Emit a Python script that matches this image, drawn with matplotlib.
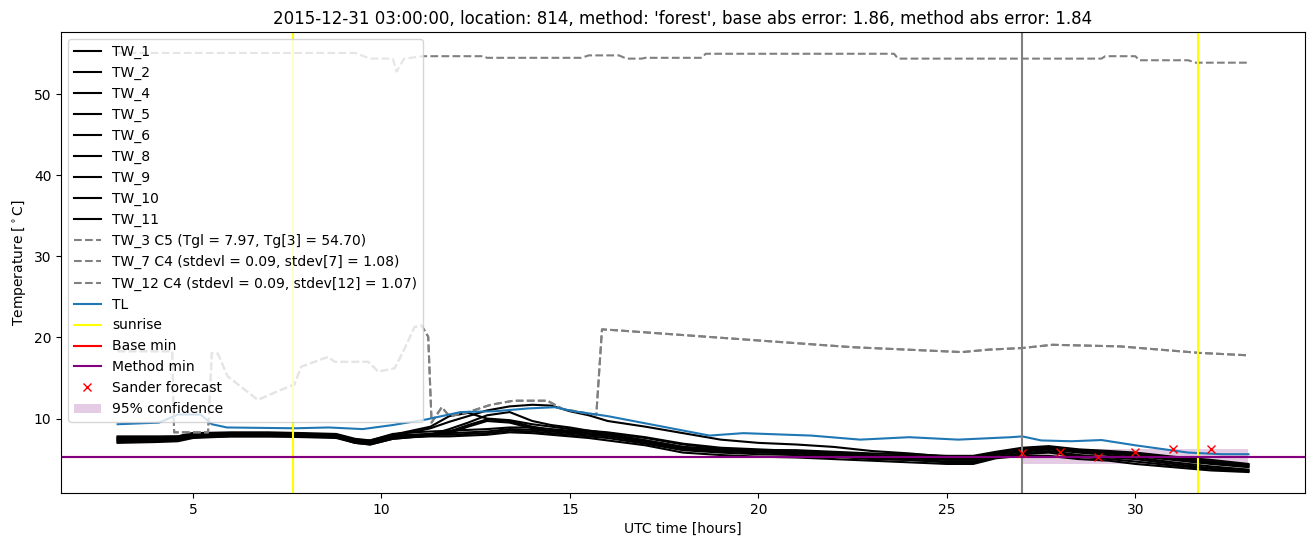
import matplotlib
matplotlib.use('Agg')
import matplotlib.pyplot as plt

title = "2015-12-31 03:00:00, location: 814, method: 'forest', base abs error: 1.86, method abs error: 1.84"

# knot times (hours) shared by the black TW lines
kt = [3.0, 4.0, 4.6, 5.0, 6.0, 7.0, 8.0, 8.8, 9.3, 9.7, 10.3, 10.8, 11.3, 11.8, 12.3, 12.8, 13.4, 14.0, 14.5, 15.0,
      15.5, 16.0, 17.0, 18.0, 19.0, 20.0, 21.0, 22.0, 23.0, 24.0, 25.0, 25.7, 26.3, 27.0, 27.7, 28.5, 29.3, 30.0,
      31.0, 32.0, 33.0]

tw_1 = [7.6, 7.7, 7.7, 8.1, 8.2, 8.2, 8.1, 8.0, 7.4, 7.2, 8.0, 8.3, 8.8, 9.6, 10.3, 11.0, 11.5, 11.7, 11.6, 10.9,
        10.4, 9.7, 9.0, 8.2, 7.4, 7.0, 6.8, 6.5, 6.0, 5.7, 5.3, 5.3, 5.8, 6.2, 6.5, 6.1, 5.8, 5.5, 5.1, 4.6, 4.2]
tw_2 = [7.4, 7.5, 7.5, 7.9, 8.0, 8.0, 8.0, 7.9, 7.3, 7.1, 7.8, 8.0, 8.0, 8.7, 9.5, 10.4, 10.8, 9.7, 9.2, 8.9,
        8.5, 8.2, 7.6, 6.8, 6.3, 6.0, 5.9, 5.7, 5.4, 5.3, 5.1, 5.1, 5.6, 6.1, 6.4, 6.0, 5.8, 5.6, 5.0, 4.5, 4.1]
tw_4 = [7.3, 7.4, 7.5, 7.9, 8.0, 8.0, 7.9, 7.8, 7.2, 7.0, 7.7, 7.9, 8.1, 8.4, 9.2, 9.9, 9.7, 9.0, 8.6, 8.4,
        8.2, 8.0, 7.3, 6.5, 6.1, 6.0, 5.9, 5.6, 5.3, 5.1, 4.9, 4.9, 5.5, 5.9, 6.2, 5.8, 5.5, 5.2, 4.6, 4.1, 3.7]
tw_5 = [7.1, 7.2, 7.3, 7.7, 7.8, 7.8, 7.7, 7.6, 7.0, 6.8, 7.5, 7.7, 7.9, 8.2, 9.0, 9.7, 9.5, 8.8, 8.5, 8.3,
        8.1, 7.9, 7.1, 6.3, 6.0, 5.8, 5.7, 5.4, 5.1, 4.9, 4.6, 4.6, 5.2, 5.6, 5.8, 5.3, 5.0, 4.7, 4.2, 3.8, 3.5]
tw_6 = [7.7, 7.7, 7.8, 8.2, 8.2, 8.2, 8.1, 8.0, 7.4, 7.3, 8.0, 8.5, 9.0, 10.3, 10.7, 10.0, 9.8, 9.3, 9.0, 8.7,
        8.5, 8.3, 7.7, 6.9, 6.4, 6.2, 6.0, 5.8, 5.5, 5.4, 5.2, 5.2, 5.8, 6.3, 6.5, 6.1, 5.9, 5.7, 5.2, 4.7, 4.3]
tw_8 = [7.8, 7.8, 7.8, 8.2, 8.3, 8.3, 8.2, 8.1, 7.5, 7.3, 8.1, 8.3, 8.4, 8.5, 8.6, 8.7, 8.9, 8.9, 8.7, 8.5,
        8.4, 8.1, 7.3, 6.5, 6.2, 6.1, 6.1, 5.9, 5.7, 5.6, 5.4, 5.4, 5.9, 6.4, 6.6, 6.2, 6.0, 5.8, 5.3, 4.9, 4.4]
tw_9 = [7.5, 7.6, 7.6, 8.0, 8.1, 8.1, 8.0, 7.9, 7.3, 7.1, 7.9, 8.0, 8.1, 8.2, 8.3, 8.4, 8.7, 8.6, 8.4, 8.2,
        8.0, 7.8, 7.1, 6.3, 6.0, 5.9, 5.8, 5.6, 5.3, 5.2, 5.0, 5.0, 5.6, 6.0, 6.3, 5.9, 5.7, 5.4, 4.9, 4.4, 4.0]
tw_10 = [7.3, 7.4, 7.4, 7.8, 7.9, 7.9, 7.9, 7.8, 7.1, 6.9, 7.7, 7.9, 8.0, 8.0, 8.1, 8.2, 8.5, 8.4, 8.2, 8.0,
         7.8, 7.6, 6.9, 6.1, 5.8, 5.6, 5.5, 5.3, 5.0, 4.9, 4.7, 4.7, 5.3, 5.7, 6.0, 5.5, 5.2, 5.0, 4.4, 3.9, 3.6]
tw_11 = [7.0, 7.1, 7.2, 7.6, 7.8, 7.8, 7.8, 7.7, 7.0, 6.8, 7.5, 7.7, 7.8, 7.8, 7.9, 8.0, 8.3, 8.2, 8.0, 7.8,
         7.6, 7.3, 6.7, 5.8, 5.5, 5.3, 5.2, 5.0, 4.8, 4.6, 4.4, 4.4, 5.1, 5.4, 5.4, 5.0, 4.8, 4.4, 4.0, 3.6, 3.4]

black_names = ['TW_1', 'TW_2', 'TW_4', 'TW_5', 'TW_6', 'TW_8', 'TW_9', 'TW_10', 'TW_11']
black_vals = [tw_1, tw_2, tw_4, tw_5, tw_6, tw_8, tw_9, tw_10, tw_11]

# TW_3 (C5, stuck around 55)
t3 = [3.0, 9.3, 9.7, 10.3, 10.4, 10.6, 11.1, 12.7, 12.8, 15.3, 15.5, 16.3, 16.5, 16.9, 17.0, 18.5, 18.6, 23.6,
      23.7, 29.1, 29.2, 30.0, 30.1, 31.4, 31.6, 33.0]
tw_3 = [55.1, 55.1, 54.4, 54.4, 52.8, 54.4, 54.7, 54.7, 54.5, 54.5, 54.8, 54.8, 54.4, 54.4, 54.5, 54.5, 55.0, 55.0,
        54.4, 54.4, 54.7, 54.7, 54.2, 54.2, 53.9, 53.9]

# TW_7 / TW_12 (C4, jumpy sensors, drawn on top of each other)
t7 = [3.0, 4.45, 4.5, 5.4, 5.5, 5.66, 5.92, 6.28, 6.72, 7.16, 7.69, 7.87, 8.58, 8.76, 9.65, 9.91, 10.35, 10.6,
      10.88, 11.06, 11.24, 11.33, 11.6, 11.8, 12.3, 12.9, 13.5, 14.4, 14.8, 15.5, 15.7, 15.85, 16.2, 17.7, 20.1,
      22.5, 25.4, 26.1, 27.0, 27.8, 29.6, 31.7, 33.0]
tw_7 = [18.3, 18.3, 8.3, 8.3, 18.1, 18.0, 15.2, 13.9, 12.3, 13.2, 14.2, 16.4, 17.6, 17.0, 17.0, 15.8, 16.2, 18.5,
        21.3, 21.5, 20.1, 9.5, 11.4, 10.3, 10.8, 11.7, 12.2, 12.2, 11.2, 10.6, 10.5, 21.0, 20.9, 20.4, 19.6,
        18.8, 18.2, 18.5, 18.7, 19.1, 18.9, 18.1, 17.8]
tw_12 = tw_7

# air temperature TL
tl_t = [3.0, 4.1, 4.6, 5.2, 5.5, 5.9, 7.7, 8.6, 9.5, 10.3, 11.2, 12.1, 13.0, 13.9, 14.6, 15.1, 16.0, 16.9, 17.8,
        18.7, 19.6, 21.4, 22.7, 24.0, 25.3, 26.7, 27.0, 27.5, 28.3, 29.1, 30.0, 31.4, 32.3, 33.0]
tl = [9.3, 9.5, 10.5, 10.5, 9.3, 8.9, 8.8, 8.9, 8.7, 9.2, 9.9, 10.8, 10.9, 11.25, 11.4, 10.9, 10.3, 9.5, 8.7,
      7.9, 8.2, 7.9, 7.4, 7.7, 7.4, 7.7, 7.8, 7.3, 7.2, 7.35, 6.7, 5.8, 5.6, 5.6]

sunrise = [7.66, 31.67]
forecast_time = 27.0
base_min = 5.25
method_min = 5.25

sander_t = [27, 28, 29, 30, 31, 32]
sander_v = [5.8, 5.9, 5.2, 5.9, 6.2, 6.2]

conf_t = [27, 28, 29, 30, 31, 32, 33]
conf_lo = [4.45, 4.45, 4.45, 4.45, 4.45, 4.45, 4.45]
conf_hi = [6.2, 6.2, 6.2, 6.2, 6.2, 6.2, 6.2]

fig = plt.figure(figsize=(13.1, 5.47), dpi=100)
ax = fig.add_axes([0.0466, 0.0987, 0.9496, 0.8428])

for name, vals in zip(black_names, black_vals):
    ax.plot(kt, vals, '-', color='black', label=name)
ax.plot(t3, tw_3, '--', color='gray', label='TW_3 C5 (Tgl = 7.97, Tg[3] = 54.70)')
ax.plot(t7, tw_7, '--', color='gray', label='TW_7 C4 (stdevl = 0.09, stdev[7] = 1.08)')
ax.plot(t7, tw_12, '--', color='gray', label='TW_12 C4 (stdevl = 0.09, stdev[12] = 1.07)')
ax.plot(tl_t, tl, '-', color='tab:blue', label='TL')
ax.axvline(sunrise[0], color='yellow', label='sunrise')
ax.axvline(sunrise[1], color='yellow')
ax.axvline(forecast_time, color='gray')
ax.axhline(base_min, color='red', label='Base min')
ax.axhline(method_min, color='purple', label='Method min')
ax.plot(sander_t, sander_v, 'x', color='red', label='Sander forecast')
ax.fill_between(conf_t, conf_lo, conf_hi, color='purple', alpha=0.2, linewidth=0, label='95% confidence')

ax.set_title(title)
ax.set_xlabel('UTC time [hours]')
ax.set_ylabel(r'Temperature [$^\circ$C]')
ax.legend(loc='upper left')

fig.savefig('out.png', dpi=100)
